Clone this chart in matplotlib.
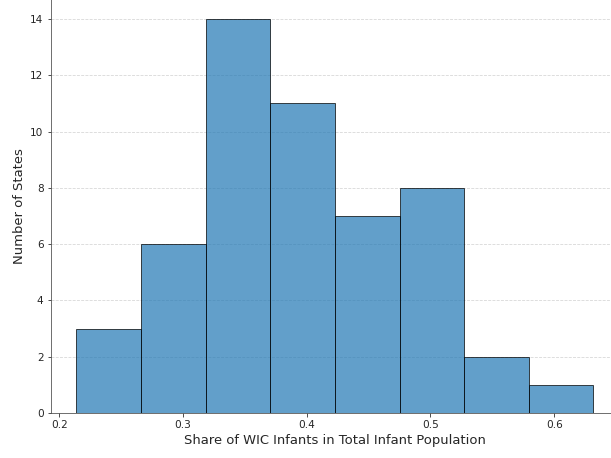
import matplotlib
matplotlib.use("Agg")
import matplotlib.pyplot as plt

bin_edges = [0.2137, 0.2663, 0.3188, 0.3705, 0.4230, 0.4756, 0.5273, 0.5798, 0.6315]
state_counts = [3, 6, 14, 11, 7, 8, 2, 1]
xlabel = "Share of WIC Infants in Total Infant Population"
ylabel = "Number of States"

DPI = 72
fig = plt.figure(figsize=(611 / DPI, 458 / DPI), dpi=DPI)
ax = fig.add_axes([50.5 / 611, 45 / 458, (619 - 50.5) / 611, 413.7 / 458])

ax.hist(bin_edges[:-1], bins=bin_edges, weights=state_counts,
        color="#1f77b4", alpha=0.7, edgecolor="black", linewidth=1)

ax.set_yticks(range(0, 15, 2))
ax.set_xticks([0.2, 0.3, 0.4, 0.5, 0.6])
ax.tick_params(labelsize=10.5, colors="0.15", labelcolor="0.15")
ax.set_xlabel(xlabel, fontsize=13.1, color="0.15")
ax.set_ylabel(ylabel, fontsize=13.1, color="0.15")
ax.grid(axis="y", linestyle="--", alpha=0.6, color="#bbbbbb")
ax.set_axisbelow(True)
for s in ["top", "right"]:
    ax.spines[s].set_visible(False)
for s in ["left", "bottom"]:
    ax.spines[s].set_color("0.3")

fig.savefig("out.png", dpi=DPI)
